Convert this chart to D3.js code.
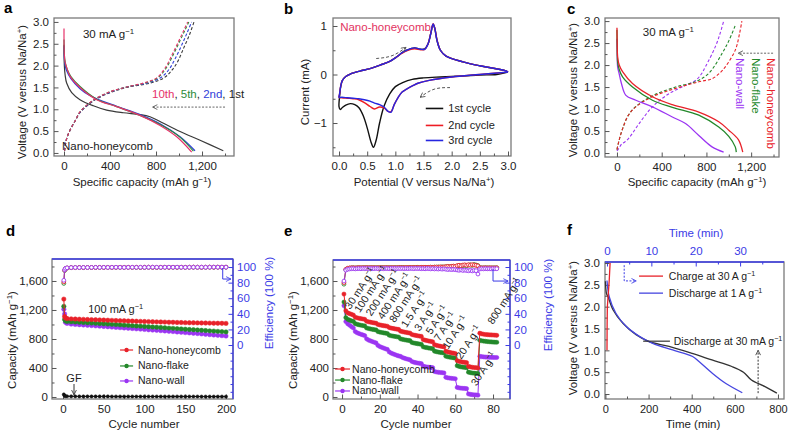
<!DOCTYPE html>
<html><head><meta charset="utf-8">
<script src="https://cdn.jsdelivr.net/npm/d3@7"></script>
<style>
body{margin:0;background:#fff}
svg{display:block;font-family:"Liberation Sans",Arial,Helvetica,sans-serif}
</style></head><body><svg id="c" width="788" height="433"></svg>
<script>
// ---------------- DATA ----------------
// Panel a: galvanostatic profiles (capacity mAh/g, voltage V)
const aDis1st  = [[0,2.48],[3,2.0],[10,1.78],[23,1.6],[67,1.38],[139,1.22],[255,1.08],[371,0.98],[516,0.92],[661,0.88],[748,0.83],[835,0.72],[1009,0.49],[1183,0.29],[1385,0.05]];
const aDis2nd  = [[0,2.45],[3,2.15],[10,2.0],[23,1.88],[60,1.7],[139,1.47],[220,1.32],[284,1.24],[458,1.07],[661,0.88],[835,0.67],[1009,0.37],[1139,0.05]];
const aDis5th  = [[0,2.6],[3,2.25],[10,2.08],[30,1.9],[60,1.75],[139,1.52],[284,1.23],[458,1.06],[661,0.86],[835,0.65],[1000,0.38],[1125,0.04]];
const aDis10th = [[0,2.85],[2,2.3],[8,2.1],[20,1.98],[52,1.76],[139,1.5],[284,1.22],[458,1.06],[661,0.86],[835,0.63],[980,0.37],[1110,0.02]];
const aChg1st  = [[5,0.05],[20,0.3],[52,0.52],[100,0.75],[139,0.92],[255,1.19],[400,1.38],[545,1.5],[750,1.6],[870,1.72],[940,1.9],[990,2.1],[1040,2.4],[1090,2.7],[1130,3.0]];
const aChg2nd  = [[5,0.05],[20,0.3],[52,0.52],[100,0.75],[139,0.93],[255,1.2],[400,1.39],[545,1.51],[720,1.6],[840,1.72],[915,1.92],[965,2.15],[1020,2.45],[1070,2.75],[1110,3.0]];
const aChg5th  = [[5,0.05],[20,0.3],[52,0.52],[100,0.75],[139,0.94],[255,1.21],[400,1.4],[545,1.51],[700,1.6],[815,1.72],[890,1.95],[950,2.25],[1005,2.55],[1050,2.8],[1085,3.0]];
const aChg10th = [[5,0.05],[20,0.3],[52,0.52],[100,0.75],[139,0.94],[255,1.21],[400,1.4],[545,1.51],[690,1.6],[806,1.72],[880,1.95],[940,2.25],[995,2.55],[1040,2.8],[1075,3.0]];

// Panel b: cyclic voltammetry (potential V, current mA)
const bCycle1 = [[3.0,0.05],[2.8,0.0],[2.5,-0.01],[2.2,-0.03],[1.8,-0.05],[1.5,-0.07],[1.3,-0.1],[1.14,-0.16],[1.0,-0.25],[0.9,-0.4],[0.8,-0.65],[0.72,-1.0],[0.66,-1.35],[0.61,-1.5],[0.57,-1.4],[0.5,-1.1],[0.43,-0.85],[0.35,-0.68],[0.28,-0.62],[0.2,-0.6],[0.12,-0.63],[0.06,-0.68],[0.02,-0.72],[0.0,-0.66],[0.01,-0.45],[0.03,-0.25],[0.06,-0.12],[0.12,-0.04],[0.2,0.01],[0.37,0.07],[0.55,0.12],[0.72,0.19],[0.9,0.27],[1.02,0.36],[1.12,0.45],[1.2,0.5],[1.34,0.55],[1.45,0.52],[1.52,0.53],[1.58,0.63],[1.63,0.85],[1.67,1.03],[1.7,0.95],[1.74,0.7],[1.8,0.5],[1.9,0.38],[2.2,0.26],[2.5,0.18],[2.79,0.12],[2.95,0.08],[3.0,0.05]];
const bCycle2 = [[3.0,0.05],[2.5,0.0],[2.0,-0.05],[1.6,-0.12],[1.4,-0.18],[1.31,-0.23],[1.2,-0.3],[1.12,-0.36],[1.05,-0.47],[0.98,-0.62],[0.92,-0.77],[0.87,-0.76],[0.8,-0.69],[0.72,-0.67],[0.63,-0.71],[0.55,-0.66],[0.45,-0.58],[0.35,-0.52],[0.25,-0.5],[0.15,-0.49],[0.05,-0.48],[0.0,-0.47],[0.01,-0.4],[0.03,-0.24],[0.06,-0.12],[0.12,-0.04],[0.2,0.01],[0.37,0.07],[0.55,0.12],[0.72,0.19],[0.9,0.27],[1.02,0.36],[1.12,0.44],[1.2,0.49],[1.34,0.53],[1.45,0.51],[1.52,0.52],[1.58,0.63],[1.63,0.86],[1.67,1.05],[1.7,0.96],[1.74,0.71],[1.8,0.5],[1.9,0.38],[2.2,0.26],[2.5,0.18],[2.79,0.12],[2.95,0.08],[3.0,0.05]];
const bCycle3 = [[3.0,0.05],[2.5,0.0],[2.0,-0.05],[1.6,-0.12],[1.4,-0.18],[1.31,-0.23],[1.2,-0.3],[1.12,-0.36],[1.05,-0.47],[0.98,-0.62],[0.92,-0.78],[0.87,-0.76],[0.8,-0.67],[0.72,-0.62],[0.63,-0.59],[0.55,-0.55],[0.45,-0.52],[0.35,-0.5],[0.25,-0.49],[0.15,-0.48],[0.05,-0.47],[0.0,-0.47],[0.01,-0.4],[0.03,-0.24],[0.06,-0.12],[0.12,-0.04],[0.2,0.01],[0.37,0.07],[0.55,0.12],[0.72,0.19],[0.9,0.27],[1.02,0.36],[1.12,0.45],[1.2,0.5],[1.34,0.55],[1.45,0.52],[1.52,0.52],[1.58,0.63],[1.63,0.85],[1.67,1.04],[1.7,0.95],[1.74,0.7],[1.8,0.5],[1.9,0.38],[2.2,0.26],[2.5,0.18],[2.79,0.12],[2.95,0.08],[3.0,0.05]];

// Panel c: profiles of three morphologies
const cDisHoney = [[0,2.85],[2,2.5],[6,2.19],[20,2.0],[50,1.85],[139,1.58],[317,1.28],[495,1.1],[732,0.93],[910,0.71],[1000,0.52],[1087,0.3],[1125,0.02]];
const cDisFlake = [[0,2.8],[2,2.4],[6,2.07],[20,1.9],[50,1.73],[139,1.5],[317,1.2],[495,1.04],[732,0.86],[910,0.59],[1000,0.38],[1058,0.14],[1067,0.02]];
const cDisWall  = [[0,2.6],[2,2.3],[6,1.96],[20,1.8],[40,1.58],[80,1.31],[169,1.2],[317,1.05],[495,0.82],[613,0.67],[732,0.4],[850,0.14],[954,0.02]];
const cChgHoney = [[0,0.08],[20,0.3],[50,0.55],[100,0.85],[169,1.05],[317,1.28],[524,1.47],[732,1.62],[850,1.69],[920,1.82],[969,1.96],[1058,2.34],[1095,2.7],[1117,3.0]];
const cChgFlake = [[0,0.08],[20,0.3],[50,0.55],[100,0.85],[169,1.06],[317,1.3],[524,1.5],[700,1.62],[820,1.81],[939,2.26],[1000,2.55],[1058,2.9]];
const cChgWall  = [[0,0.05],[20,0.12],[40,0.2],[70,0.25],[110,0.35],[198,0.67],[317,1.05],[465,1.35],[613,1.54],[702,1.65],[750,1.78],[791,1.96],[880,2.42],[920,2.7],[954,3.0]];

// Panel d: cycling at 100 mA/g
const dCycles = [1,2,3,5,10,15,20,25,30,35,40,45,50,55,60,65,70,75,80,85,90,95,100,105,110,115,120,125,130,135,140,145,150,155,160,165,170,175,180,185,190,195,200];
const dHoney = [1350,1110,1090,1082,1078,1075,1073,1071,1069,1067,1065,1063,1061,1059,1057,1055,1053,1051,1049,1047,1045,1043,1041,1040,1038,1036,1035,1033,1031,1030,1028,1027,1025,1024,1023,1022,1021,1020,1019,1018,1017,1016,1015];
const dFlake = [1250,1070,1050,1042,1038,1035,1031,1028,1024,1020,1017,1013,1010,1006,1002,999,995,991,988,984,980,977,973,969,965,962,958,954,950,947,943,939,935,931,928,924,920,916,912,909,905,902,898];
const dWall  = [1210,1145,1030,1015,1005,1001,997,993,989,985,981,977,973,969,964,960,956,952,948,944,940,936,932,927,923,919,915,911,906,902,897,893,888,884,879,875,870,865,860,855,850,846,841];
const dGF    = [35,18,12,10,9,9,8,8,8,8,8,8,8,8,7,7,7,7,7,7,7,7,7,7,7,7,7,7,7,7,7,7,7,7,7,7,6,6,6,6,6,6,6];
const dEffHoney = [81,96,98,98.8,99.2,99.3,99.4,99.3,99.5,99.4,99.5,99.6,99.5,99.6,99.5,99.6,99.7,99.6,99.7,99.6,99.7,99.6,99.7,99.8,99.7,99.6,99.7,99.8,99.7,99.8,99.7,99.8,99.7,99.8,99.9,99.8,99.7,99.8,99.9,99.8,99.9,99.8,99.9];
const dEffFlake = [79,95.5,97.8,98.6,99.1,99.2,99.3,99.2,99.4,99.3,99.4,99.5,99.4,99.5,99.4,99.5,99.6,99.5,99.6,99.5,99.6,99.5,99.6,99.7,99.6,99.5,99.6,99.7,99.6,99.7,99.6,99.7,99.6,99.7,99.8,99.7,99.6,99.7,99.8,99.7,99.8,99.7,99.8];
const dEffWall  = [83,96.5,98.2,99,99.3,99.4,99.3,99.5,99.4,99.5,99.6,99.5,99.6,99.5,99.6,99.7,99.6,99.5,99.6,99.7,99.6,99.7,99.6,99.7,99.8,99.7,99.6,99.7,99.8,99.7,99.8,99.7,99.6,99.7,99.8,99.7,99.8,99.7,99.8,99.9,99.8,99.9,99.8];

// Panel e: rate capability (cycles 1..82)
const eHoney = [1420,1190,1160,1150,1140,1130, 1100,1092,1086,1080,1076,1072, 1045,1038,1032,1027,1022,1018, 1000,994,989,984,980,976, 958,951,946,941,936,932, 908,901,896,891,886,882, 862,855,850,845,840,836, 792,784,778,772,767,762, 722,713,707,701,696,691, 632,622,616,610,605,600, 502,492,486,481,478,474, 422,415,410,407,404,400, 880,872,866,862,860,858,856,855,853,851];
const eFlake = [1310,1095,1072,1060,1050,1042, 1012,1003,996,990,985,980, 952,945,939,934,929,925, 902,895,890,885,880,876, 852,845,840,835,831,827, 802,795,790,785,781,777, 752,745,740,735,731,727, 692,685,680,675,671,667, 632,625,620,615,611,607, 562,555,550,545,541,537, 432,422,416,411,408,405, 342,336,331,328,325,322, 782,776,771,768,765,762,760,758,756,755];
const eWall  = [1260,1040,1010,990,970,952, 902,886,875,865,856,847, 802,786,775,765,755,746, 712,696,685,675,665,656, 622,606,595,585,575,566, 560,545,535,527,520,513, 490,480,474,469,465,461, 425,418,414,411,408,405, 352,345,341,338,335,332, 272,265,261,257,255,252, 132,126,122,120,118,115, 42,36,32,30,28,25, 562,556,553,551,550,548,547,546,545,545];
const eEffHoney = [80,97,98.5,98.8,99,99, 98.8,99,99.2,99,99.1,99, 99.2,99,99.1,99.2,99,99.1, 99,99.2,99.1,99,99.2,99.1, 99,99.1,99.2,99,99.1,99.2, 99.3,99.1,99.2,99.4,99.2,99.3, 99.4,99.2,99.5,99.3,99.4,99.6, 99.5,99.7,99.4,99.6,99.8,99.5, 99.8,100,99.7,100.2,99.9,100.1, 100.4,100.8,100.3,100.9,101.2,100.8, 101.8,102.3,101.6,102.5,102.8,102.2, 102.9,102.4,103,102.6,102.2,101.5, 99,98.8,98.9,99,98.8,98.9,99,98.8,98.9,99];
const eEffFlake = [78,96.5,98.2,98.6,98.9,99, 98.7,99,99.1,98.9,99.1,99, 99.1,98.9,99.2,99,99.1,99, 99.1,99,99.2,99.1,99,99.2, 99.1,99.2,99,99.2,99.1,99.3, 99.2,99.4,99.1,99.3,99.2,99.4, 99.3,99.5,99.2,99.6,99.4,99.5, 99.6,99.4,99.7,99.5,99.8,99.6, 99.9,99.7,100.1,99.8,100.2,100, 100.3,100.6,100.2,100.7,100.9,100.5, 101.2,101.7,101.3,101.9,102.2,101.8, 102.4,102.8,102.1,103.2,102.6,101.8, 98.9,99,98.8,99,98.9,99,98.8,99,98.9,99];
const eEffWall  = [82,96,97.2,97.5,97.8,97.9, 97.6,97.9,98,97.8,98.1,97.9, 98,97.8,98.1,97.9,98,98.2, 97.9,98.1,98,97.8,98.1,98, 97.9,98.2,98,98.1,97.9,98.1, 98,98.2,97.9,98.1,98,98.2, 98.1,97.9,98.2,98,98.1,97.8, 98,97.7,98.1,97.9,97.6,98, 97.5,97.8,97.4,97.7,97.3,97.6, 97.2,96.8,97.1,96.7,97,96.6, 96.2,95.8,96.3,95.6,96,95.5, 95.2,95.8,95,95.6,95.3,91, 97.5,97.8,97.6,97.9,97.7,97.8,97.6,97.9,97.7,97.8];
const eRateLabels = ["30 mA g^{−1}","100 mA g^{−1}","200 mA g^{−1}","400 mA g^{−1}","800 mA g^{−1}","1.5 A g^{−1}","3 A g^{−1}","5 A g^{−1}","7 A g^{−1}","10 A g^{−1}","20 A g^{−1}","30 A g^{−1}","800 mA g^{−1}"];
const eRateAnchorCycle = [4.4,9.4,15.5,21.7,27.9,34.1,41.2,47.3,51.7,56.1,63.2,71.2,80.0];
const eRateAnchorCap   = [1200,1154,1108,1062,1016,947,901,855,763,648,510,145,993];

// Panel f: time profiles
const fBlack30mA = [[0,2.58],[5,2.3],[12,2.23],[35,1.93],[81,1.62],[142,1.36],[203,1.2],[295,1.09],[402,0.93],[494,0.78],[586,0.63],[640,0.5],[677,0.32],[740,0.17],[795,0.02]]; // bottom axis, min
const fBlue1A   = [[0,2.6],[0.5,2.23],[2.0,1.85],[4.3,1.55],[7.3,1.32],[10.3,1.16],[14.8,1.01],[19.3,0.86],[20.8,0.74],[23.8,0.47],[26.8,0.24],[30.5,0.03]]; // top axis, min
const fRed30A   = [[0,1.0],[0.03,1.6],[0.08,2.0],[0.3,2.3],[0.5,2.6],[0.7,3.0]]; // top axis, min

// ---------------- DRAWING ----------------
const svg = d3.select("#c");
const C = {gray:"#7a7a7a", text:"#222", eff:"#3b3be6", red:"#e8222a", green:"#23882a", purple:"#9b35f2",
  pink:"#e6336a", aGreen:"#2e8b3a", aBlue:"#3040d8", aBlack:"#3a3a3a", bBlack:"#111", bRed:"#ee1c24", bBlue:"#2626e0"};
const defs = svg.append("defs");
function arrowDef(id,color){
  defs.append("marker").attr("id",id).attr("viewBox","0 0 10 10").attr("refX",9).attr("refY",5)
    .attr("markerWidth",6).attr("markerHeight",6).attr("orient","auto").attr("markerUnits","userSpaceOnUse")
    .append("path").attr("d","M1,1 L9,5 L1,9").attr("fill","none").attr("stroke",color).attr("stroke-width",1.4);
}
arrowDef("ah-gray","#555"); arrowDef("ah-blue",C.eff); arrowDef("ah-black","#333");

function txt(g,x,y,str,o={}){
  const s=o.size||11.5;
  const t=g.append("text").attr("x",x).attr("y",y).attr("font-size",s).attr("fill",o.color||C.text)
    .attr("text-anchor",o.anchor||"start");
  if(o.weight) t.attr("font-weight",o.weight);
  if(o.rotate!=null) t.attr("transform",`rotate(${o.rotate},${x},${y})`);
  const parts=str.split(/\^\{([^}]*)\}/);
  let shift=0;
  parts.forEach((p,i)=>{
    if(p==="") return;
    if(i%2===1){ t.append("tspan").attr("dy",-s*0.38).attr("font-size",s*0.68).text(p); shift=s*0.38; }
    else { const ts=t.append("tspan").text(p); if(shift){ts.attr("dy",shift); shift=0;} }
  });
  return t;
}
function frame(g,p,blueTop,blueRight){
  g.append("rect").attr("x",p.L).attr("y",p.T).attr("width",p.R-p.L).attr("height",p.B-p.T)
    .attr("fill","none").attr("stroke",C.gray).attr("stroke-width",1.3);
  if(blueTop) g.append("line").attr("x1",p.L).attr("x2",p.R).attr("y1",p.T).attr("y2",p.T).attr("stroke",C.eff).attr("stroke-width",1.3);
  if(blueRight) g.append("line").attr("x1",p.R).attr("x2",p.R).attr("y1",p.T).attr("y2",p.B).attr("stroke",C.eff).attr("stroke-width",1.3);
}
function axis(g,orient,scale,pos,major,minor,fmt,pad,color,fs){
  const A={left:d3.axisLeft,right:d3.axisRight,top:d3.axisTop,bottom:d3.axisBottom}[orient];
  const vert=orient==="left"||orient==="right";
  const tr=vert?`translate(${pos},0)`:`translate(0,${pos})`;
  if(minor&&minor.length){
    const gm=g.append("g").attr("transform",tr).call(A(scale).tickValues(minor).tickSize(-2.5).tickFormat(""));
    gm.select(".domain").remove(); gm.selectAll("line").attr("stroke",color||"#555");
  }
  const ga=g.append("g").attr("transform",tr).call(A(scale).tickValues(major).tickSize(-4.5).tickPadding(pad).tickFormat(fmt));
  ga.select(".domain").remove();
  ga.attr("font-family",null).attr("font-size",null);
  ga.selectAll("line").attr("stroke",color||"#555");
  ga.selectAll("text").attr("fill",color||C.text).attr("font-size",fs||11.5);
  return ga;
}
const lineGen=(x,y)=>d3.line().x(d=>x(d[0])).y(d=>y(d[1])).curve(d3.curveCatmullRom.alpha(0.5));
function curve(g,x,y,pts,color,w,dash){
  const p=g.append("path").datum(pts).attr("d",lineGen(x,y)).attr("fill","none").attr("stroke",color).attr("stroke-width",w||1.2);
  if(dash) p.attr("stroke-dasharray",dash);
  return p;
}
function arrowPath(g,pts,id,color,dash){
  g.append("path").attr("d",d3.line()(pts)).attr("fill","none").attr("stroke",color).attr("stroke-width",1)
    .attr("stroke-dasharray",dash||"2,1.5").attr("marker-end",`url(#${id})`);
}
function series(g,x,y,xs,ys,color,r,open){
  const pts=xs.map((c,i)=>[c,ys[i]]);
  g.append("path").datum(pts).attr("d",d3.line().x(d=>x(d[0])).y(d=>y(d[1]))).attr("fill","none").attr("stroke",color).attr("stroke-width",open?0.8:1);
  g.append("g").selectAll("circle").data(pts).join("circle").attr("cx",d=>x(d[0])).attr("cy",d=>y(d[1])).attr("r",r)
    .attr("fill",open?"#fff":color).attr("stroke",color).attr("stroke-width",open?0.9:0.5);
}
const f1=d3.format(".1f"), fc=d3.format(",");
const range=(a,b,s)=>d3.range(a,b+1e-9,s);
const minorOf=(a,b,s,maj)=>range(a,b,s).filter(v=>!maj.some(m=>Math.abs(m-v)<1e-9));

const P={a:{L:54,R:234,T:18,B:156},b:{L:333,R:511,T:18,B:156},c:{L:605,R:779,T:18,B:157},
  d:{L:52,R:233,T:259,B:399},e:{L:333,R:510,T:260,B:399},f:{L:605,R:784,T:262,B:399}};

// Panel labels
[["a",4,13],["b",284,14],["c",567,14],["d",6,236],["e",284,236],["f",567,235]].forEach(([l,x,y])=>txt(svg,x,y,l,{size:15,weight:"bold",color:"#000"}));

// ===== Panel a =====
{
  const p=P.a,g=svg.append("g");
  const x=d3.scaleLinear().domain([-87,1478]).range([p.L,p.R]);
  const y=d3.scaleLinear().domain([-0.07,3.09]).range([p.B,p.T]);
  frame(g,p);
  const xm=[0,400,800,1200], ym=range(0,3,0.5);
  axis(g,"bottom",x,p.B,xm,[200,600,1000,1400],fc,6);
  axis(g,"left",y,p.L,ym,minorOf(0.25,2.75,0.5,[]),f1,5);
  const sets=[[aDis1st,aChg1st,C.aBlack],[aDis2nd,aChg2nd,C.aBlue],[aDis5th,aChg5th,C.aGreen],[aDis10th,aChg10th,C.pink]];
  sets.forEach(([dd,cc,col])=>{curve(g,x,y,cc,col,1.1,"3,2");});
  sets.forEach(([dd,cc,col])=>{curve(g,x,y,dd,col,1.2);});
  txt(g,x(165),y(2.63),"30 mA g^{−1}");
  txt(g,x(-17),y(0.07),"Nano-honeycomb");
  const t=g.append("text").attr("x",x(765)).attr("y",y(1.26)).attr("font-size",11.5);
  [["10th",C.pink],[", ",C.text],["5th",C.aGreen],[", ",C.text],["2nd",C.aBlue],[", ",C.text],["1st",C.text]].forEach(([s,c])=>t.append("tspan").attr("fill",c).text(s));
  arrowPath(g,[[x(1400),y(1.05)],[x(770),y(1.05)]],"ah-gray","#666","2,1.5");
  txt(svg,142,186,"Specific capacity (mAh g^{−1})",{anchor:"middle"});
  txt(svg,26,92,"Voltage (V versus Na/Na^{+})",{anchor:"middle",rotate:-90});
}
// ===== Panel b =====
{
  const p=P.b,g=svg.append("g");
  const x=d3.scaleLinear().domain([-0.107,3.053]).range([p.L,p.R]);
  const y=d3.scaleLinear().domain([-1.68,1.165]).range([p.B,p.T]);
  frame(g,p);
  axis(g,"bottom",x,p.B,range(0,3,0.5),range(0.25,2.75,0.5),f1,6);
  axis(g,"left",y,p.L,[-1,0,1],[-1.5,-0.5,0.5],d=>d<0?"−"+Math.abs(d):String(d),6);
  const lg=d3.line().x(d=>x(d[0])).y(d=>y(d[1])).curve(d3.curveCatmullRom.alpha(0.5));
  [[bCycle1,C.bBlack],[bCycle2,C.bRed],[bCycle3,C.bBlue]].forEach(([d,c])=>{
    g.append("path").attr("d",lg(d)).attr("fill","none").attr("stroke",c).attr("stroke-width",1.4);
  });
  txt(g,x(0.02),y(0.89),"Nano-honeycomb",{color:"#e2335f"});
  g.append("path").attr("d",d3.line().curve(d3.curveBasis)([[x(0.66),y(0.33)],[x(0.95),y(0.36)],[x(1.19),y(0.56)]]))
    .attr("fill","none").attr("stroke","#555").attr("stroke-width",1).attr("stroke-dasharray","3,2").attr("marker-end","url(#ah-gray)");
  g.append("path").attr("d",d3.line().curve(d3.curveBasis)([[x(1.97),y(-0.27)],[x(1.68),y(-0.27)],[x(1.44),y(-0.47)]]))
    .attr("fill","none").attr("stroke","#555").attr("stroke-width",1).attr("stroke-dasharray","3,2").attr("marker-end","url(#ah-gray)");
  [["1st cycle",C.bBlack,-0.70],["2nd cycle",C.bRed,-1.05],["3rd cycle",C.bBlue,-1.36]].forEach(([s,c,v])=>{
    g.append("line").attr("x1",x(1.54)).attr("x2",x(1.85)).attr("y1",y(v)).attr("y2",y(v)).attr("stroke",c).attr("stroke-width",1.6);
    txt(g,x(1.94),y(v)+4,s,{size:11});
  });
  txt(svg,424,186,"Potential (V versus Na/Na^{+})",{anchor:"middle"});
  txt(svg,309,92,"Current (mA)",{anchor:"middle",rotate:-90});
}
// ===== Panel c =====
{
  const p=P.c,g=svg.append("g");
  const x=d3.scaleLinear().domain([-107,1449]).range([p.L,p.R]);
  const y=d3.scaleLinear().domain([-0.09,3.07]).range([p.B,p.T]);
  frame(g,p);
  axis(g,"bottom",x,p.B,[0,400,800,1200],[200,600,1000,1400],fc,6);
  axis(g,"left",y,p.L,range(0,3,0.5),range(0.25,2.75,0.5),f1,5);
  [[cChgWall,C.purple],[cChgFlake,C.green],[cChgHoney,C.red]].forEach(([d,c])=>curve(g,x,y,d,c,1.1,"3,2"));
  [[cDisWall,C.purple],[cDisFlake,C.green],[cDisHoney,C.red]].forEach(([d,c])=>curve(g,x,y,d,c,1.3));
  txt(g,x(231),y(2.66),"30 mA g^{−1}");
  txt(g,x(1340),y(2.16),"Nano-honeycomb",{rotate:90,color:C.red});
  txt(g,x(1209),y(2.16),"Nano-flake",{rotate:90,color:C.green});
  txt(g,x(1067),y(2.16),"Nano-wall",{rotate:90,color:C.purple});
  arrowPath(g,[[x(1396),y(2.27)],[x(1084),y(2.27)]],"ah-gray","#666","2,1.5");
  txt(svg,697,186,"Specific capacity (mAh g^{−1})",{anchor:"middle"});
  txt(svg,577,90,"Voltage (V versus Na/Na^{+})",{anchor:"middle",rotate:-90});
}
// ===== Panel d =====
{
  const p=P.d,g=svg.append("g");
  const x=d3.scaleLinear().domain([-13.5,208.6]).range([p.L,p.R]);
  const y=d3.scaleLinear().domain([-27.6,1903]).range([p.B,p.T]);
  const yr=d3.scaleLinear().domain([-69.2,110.3]).range([p.B,p.T]);
  frame(g,p,true,true);
  axis(g,"bottom",x,p.B,[0,50,100,150,200],[25,75,125,175],d=>String(d),6);
  axis(g,"left",y,p.L,[0,400,800,1200,1600],[200,600,1000,1400,1800],fc,4);
  axis(g,"right",yr,p.R,[0,20,40,60,80,100],[-60,-50,-40,-30,-20,-10,10,30,50,70,90],d=>String(d),4,C.eff);
  series(g,x,y,dCycles,dGF,"#111",1.6);
  series(g,x,y,dCycles,dWall,C.purple,2.2);
  series(g,x,y,dCycles,dFlake,C.green,2.2);
  series(g,x,y,dCycles,dHoney,C.red,2.2);
  series(g,x,yr,dCycles,dEffFlake,C.green,1.9,true);
  series(g,x,yr,dCycles,dEffHoney,C.red,1.9,true);
  series(g,x,yr,dCycles,dEffWall,C.purple,1.9,true);
  arrowPath(g,[[x(196),yr(98.7)],[x(196),yr(84.6)],[x(206),yr(84.6)]],"ah-blue",C.eff,"none");
  txt(g,x(31),y(1159),"100 mA g^{−1}",{size:11});
  [["Nano-honeycomb",C.red,648],["Nano-flake",C.green,428],["Nano-wall",C.purple,221]].forEach(([s,c,v])=>{
    g.append("line").attr("x1",x(70)).attr("x2",x(86)).attr("y1",y(v)).attr("y2",y(v)).attr("stroke",c).attr("stroke-width",1.2);
    g.append("circle").attr("cx",x(78)).attr("cy",y(v)).attr("r",2.2).attr("fill",c);
    txt(g,x(92),y(v)+3.5,s,{size:10.5});
  });
  txt(g,x(13.5),y(207),"GF",{anchor:"middle",size:11});
  arrowPath(g,[[x(13.5),y(179)],[x(13.5),y(30)]],"ah-black","#333","none");
  txt(svg,144,428,"Cycle number",{anchor:"middle"});
  txt(svg,16,340,"Capacity (mAh g^{−1})",{anchor:"middle",rotate:-90});
  txt(svg,273,303,"Efficiency (100 %)",{anchor:"middle",rotate:-90,color:C.eff});
}
// ===== Panel e =====
{
  const p=P.e,g=svg.append("g");
  const x=d3.scaleLinear().domain([-4.8,89]).range([p.L,p.R]);
  const y=d3.scaleLinear().domain([-27.6,1890]).range([p.B,p.T]);
  const yr=d3.scaleLinear().domain([-69.2,109]).range([p.B,p.T]);
  const cyc=d3.range(1,83);
  frame(g,p,true,true);
  axis(g,"bottom",x,p.B,[0,20,40,60,80],[10,30,50,70],d=>String(d),6);
  axis(g,"left",y,p.L,[0,400,800,1200,1600],[200,600,1000,1400,1800],fc,4);
  axis(g,"right",yr,p.R,[0,20,40,60,80,100],[-60,-50,-40,-30,-20,-10,10,30,50,70,90],d=>String(d),4,C.eff);
  series(g,x,y,cyc,eWall,C.purple,2.1);
  series(g,x,y,cyc,eFlake,C.green,2.1);
  series(g,x,y,cyc,eHoney,C.red,2.1);
  series(g,x,yr,cyc,eEffFlake,C.green,1.9,true);
  series(g,x,yr,cyc,eEffHoney,C.red,1.9,true);
  series(g,x,yr,cyc,eEffWall,C.purple,1.9,true);
  arrowPath(g,[[x(80),yr(97.4)],[x(80),yr(82)],[x(88),yr(82)]],"ah-blue",C.eff,"none");
  eRateLabels.forEach((s,i)=>txt(g,x(eRateAnchorCycle[i]),y(eRateAnchorCap[i]),s,{size:10.5,rotate:-57}));
  [["Nano-honeycomb",C.red,386],["Nano-flake",C.green,234],["Nano-wall",C.purple,83]].forEach(([s,c,v])=>{
    g.append("line").attr("x1",x(-3.7)).attr("x2",x(4.2)).attr("y1",y(v)).attr("y2",y(v)).attr("stroke",c).attr("stroke-width",1.2);
    g.append("circle").attr("cx",x(0.25)).attr("cy",y(v)).attr("r",2.2).attr("fill",c);
    txt(g,x(5.3),y(v)+3.5,s,{size:10.5});
  });
  txt(svg,416,428,"Cycle number",{anchor:"middle"});
  txt(svg,297,340,"Capacity (mAh g^{−1})",{anchor:"middle",rotate:-90});
  txt(svg,552,305,"Efficiency (100 %)",{anchor:"middle",rotate:-90,color:C.eff});
}
// ===== Panel f =====
{
  const p=P.f,g=svg.append("g");
  const x=d3.scaleLinear().domain([-2,828]).range([p.L,p.R]);
  const xt=d3.scaleLinear().domain([-0.45,39.9]).range([p.L,p.R]);
  const y=d3.scaleLinear().domain([-0.114,3.023]).range([p.B,p.T]);
  frame(g,p,true,false);
  axis(g,"bottom",x,p.B,[0,200,400,600,800],[100,300,500,700],d=>String(d),6,null,11);
  axis(g,"top",xt,p.T,[0,10,20,30],[5,15,25,35],d=>String(d),7,C.eff);
  axis(g,"left",y,p.L,range(0,3,0.5),range(0.25,2.75,0.5),f1,5);
  curve(g,x,y,fBlack30mA,"#333",1.3);
  curve(g,xt,y,fBlue1A,"#4646e0",1.3);
  g.append("path").datum(fRed30A).attr("d",d3.line().x(d=>xt(d[0])).y(d=>y(d[1]))).attr("fill","none").attr("stroke",C.red).attr("stroke-width",1.3);
  g.append("line").attr("x1",x(156)).attr("x2",x(267)).attr("y1",y(2.70)).attr("y2",y(2.70)).attr("stroke",C.red).attr("stroke-width",1.3);
  txt(g,x(294),y(2.70)+4,"Charge at 30 A g^{−1}",{size:10.5});
  g.append("line").attr("x1",x(156)).attr("x2",x(267)).attr("y1",y(2.31)).attr("y2",y(2.31)).attr("stroke","#4646e0").attr("stroke-width",1.3);
  txt(g,x(294),y(2.31)+4,"Discharge at 1 A g^{−1}",{size:10.5});
  g.append("line").attr("x1",x(175)).attr("x2",x(299)).attr("y1",y(1.21)).attr("y2",y(1.21)).attr("stroke","#333").attr("stroke-width",1.2);
  txt(g,x(317),y(1.21)+4,"Discharge at 30 mA g^{−1}",{size:10.5});
  arrowPath(g,[[x(708),y(0.02)],[x(708),y(1.0)]],"ah-black","#333","2,1.5");
  arrowPath(g,[[x(87),y(2.95)],[x(87),y(2.59)],[x(143),y(2.59)]],"ah-blue",C.eff,"2,1.5");
  txt(svg,693,428,"Time (min)",{anchor:"middle"});
  txt(svg,696,237,"Time (min)",{anchor:"middle",color:C.eff});
  txt(svg,577,328,"Voltage (V versus Na/Na^{+})",{anchor:"middle",rotate:-90});
}
</script></body></html>
